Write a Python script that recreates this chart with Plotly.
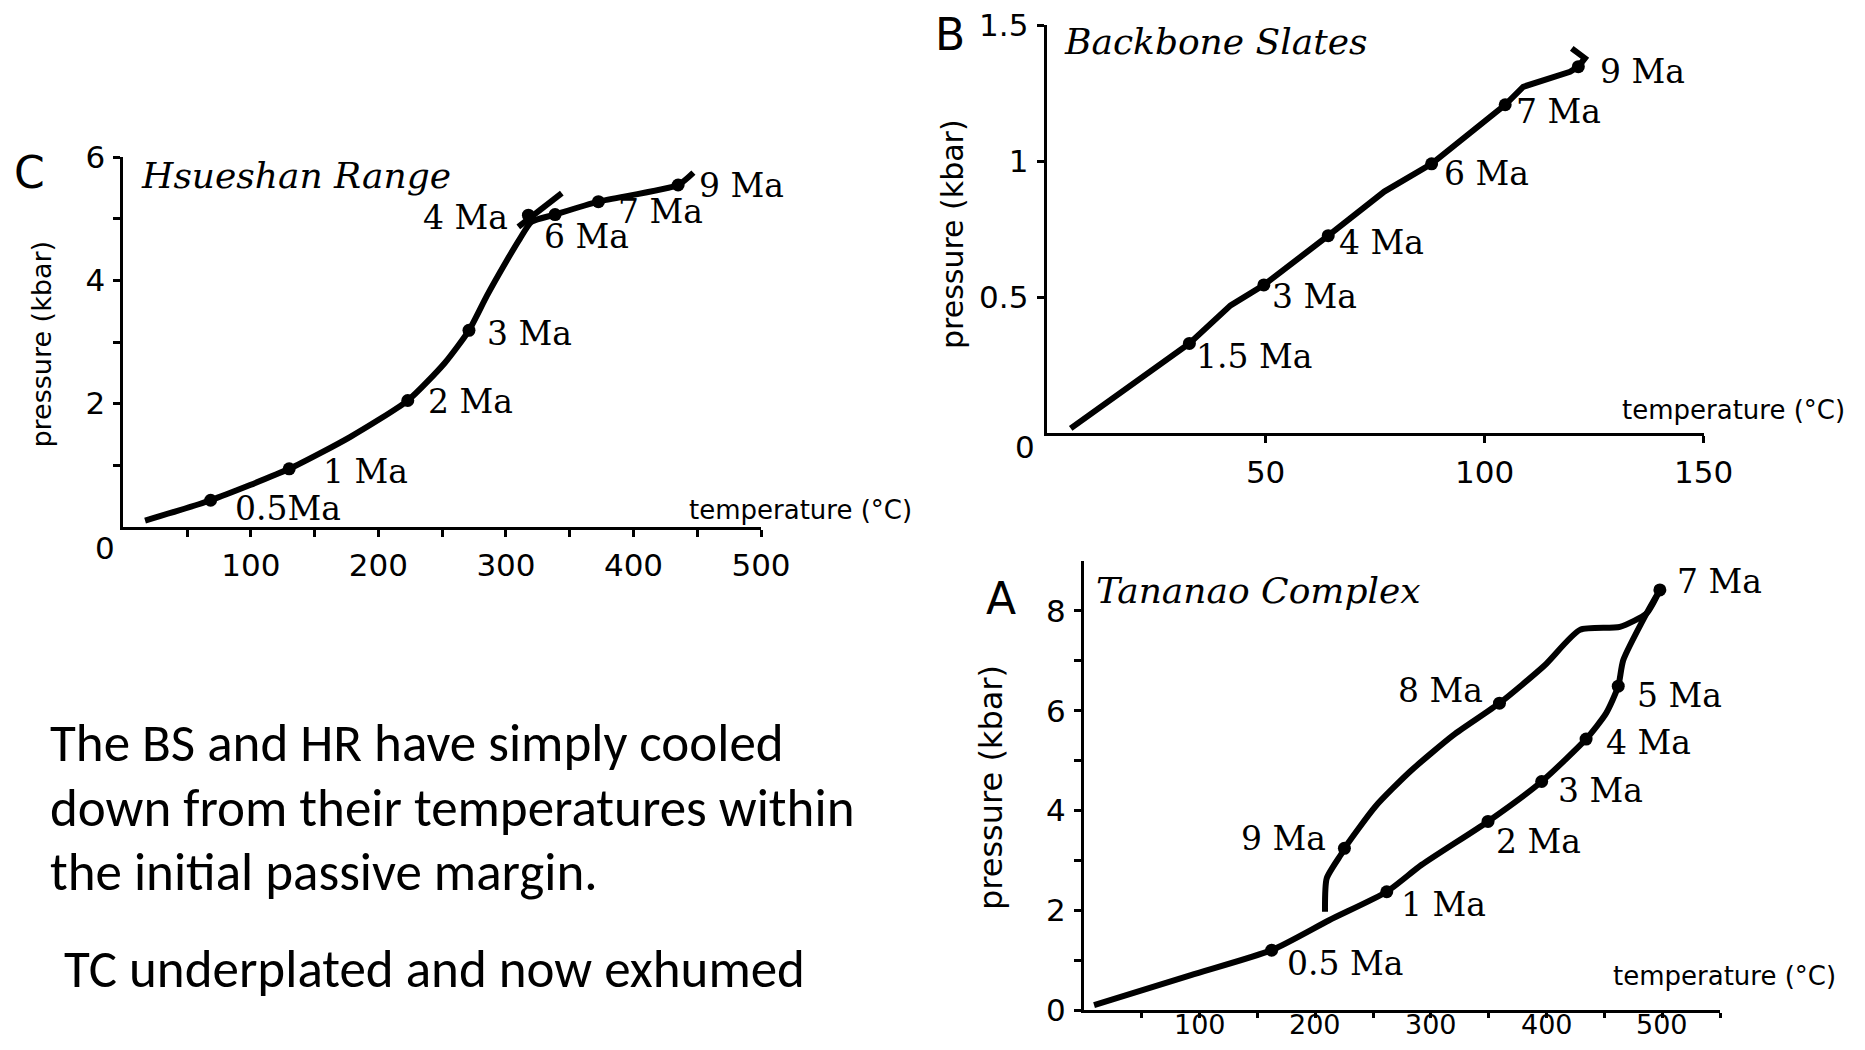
import plotly.graph_objects as go

# ---------------- data ----------------
# Panel C: Hsueshan Range (temperature degC, pressure kbar)
c_path_T = [17, 68.4, 130, 178, 223, 252, 271, 285, 300, 311, 320, 338.5, 372.5, 435, 447]
c_path_P = [0.10, 0.43, 0.94, 1.46, 2.05, 2.66, 3.19, 3.75, 4.30, 4.68, 4.95, 5.07, 5.28, 5.55, 5.75]
c_seg_T = [309.7, 343.8]
c_seg_P = [4.87, 5.42]
c_dot_T = [68.4, 130, 223, 271, 317.6, 338.5, 372.5, 435]
c_dot_P = [0.43, 0.94, 2.05, 3.19, 5.06, 5.07, 5.28, 5.55]
c_labels = ["0.5Ma", "1 Ma", "2 Ma", "3 Ma", "4 Ma", "6 Ma", "7 Ma", "9 Ma"]

# Panel B: Backbone Slates
b_path_T = [5.5, 17.9, 32.6, 42, 49.6, 64.3, 77.1, 87.9, 104.7, 108.8, 119.5, 121.4, 122.9, 119.9]
b_path_P = [0.018, 0.16, 0.33, 0.47, 0.545, 0.726, 0.888, 0.99, 1.207, 1.273, 1.328, 1.347, 1.378, 1.414]
b_dot_T = [32.6, 49.6, 64.3, 87.9, 104.7, 121.4]
b_dot_P = [0.33, 0.545, 0.726, 0.99, 1.207, 1.347]
b_labels = ["1.5 Ma", "3 Ma", "4 Ma", "6 Ma", "7 Ma", "9 Ma"]

# Panel A: Tananao Complex
a_pro_T = [8.7, 92.5, 162.3, 212, 261.8, 292, 349.4, 395.8, 434.2, 451.6, 462, 466.3, 486.5, 498]
a_pro_P = [0.10, 0.70, 1.20, 1.80, 2.37, 2.91, 3.78, 4.58, 5.43, 5.95, 6.49, 7.01, 7.95, 8.42]
a_ret_T = [498, 486.5, 463.4, 428.9, 398, 359.3, 319.4, 282, 252, 225.2, 222.9, 209.9, 208.4]
a_ret_P = [8.42, 7.95, 7.68, 7.62, 6.90, 6.15, 5.51, 4.78, 4.08, 3.24, 3.14, 2.64, 1.97]
a_dot_T = [162.3, 261.8, 349.4, 395.8, 434.2, 462, 498, 359.3, 225.2]
a_dot_P = [1.20, 2.37, 3.78, 4.58, 5.43, 6.49, 8.42, 6.15, 3.24]
a_labels = ["0.5 Ma", "1 Ma", "2 Ma", "3 Ma", "4 Ma", "5 Ma", "7 Ma", "8 Ma", "9 Ma"]

# tick labels
c_xticks = [50, 100, 150, 200, 250, 300, 350, 400, 450, 500]
c_xtext = ["", "100", "", "200", "", "300", "", "400", "", "500"]
c_yticks = [1, 2, 3, 4, 5, 6]
c_ytext = ["", "2", "", "4", "", "6"]
b_xticks = [50, 100, 150]
b_xtext = ["50", "100", "150"]
b_yticks = [0.5, 1, 1.5]
b_ytext = ["0.5", "1", "1.5"]
a_xticks = [50, 100, 150, 200, 250, 300, 350, 400, 450, 500, 550]
a_xlabel_vals = [100, 200, 300, 400, 500]
a_xlabel_text = ["100", "200", "300", "400", "500"]
a_yticks = [0, 1, 2, 3, 4, 5, 6, 7, 8]
a_ytext = ["0", "", "2", "", "4", "", "6", "", "8"]

# ---------------- layout helpers ----------------
# the page body keeps its default 8 px margin, so the figure is drawn 8 px in
OFF = 8
W, H = 1865 - 2 * OFF, 1050 - 2 * OFF
def px(x):
    return (x - OFF) / W
def py(y):
    return 1 - (y - OFF) / H

# label offsets (pixels) : (dx, dy_down, anchor)
c_off = [(22, 8, "left"), (32, 3, "left"), (18, 1, "left"), (16, 3, "left"),
         (-18, 2, "right"), (-13, 22, "left"), (18, 10, "left"), (19, 0, "left")]
b_off = [(5, 13, "left"), (6, 12, "left"), (9, 7, "left"), (10, 10, "left"),
         (9, 7, "left"), (20, 5, "left")]
a_off = [(13, 13, "left"), (12, 13, "left"), (6, 20, "left"), (14, 9, "left"),
         (18, 3, "left"), (17, 9, "left"), (15, -8, "left"), (-14, -13, "right"),
         (-16, -10, "right")]

BLACK = "#000000"
LW = 6
MS = 13
TICKFONT = dict(family="DejaVu Sans", size=31, color=BLACK)
MAFONT = dict(family="DejaVu Serif", size=33, color=BLACK)

fig = go.Figure()

def add_line(T, P, xa, ya, shape="linear"):
    fig.add_trace(go.Scatter(x=T, y=P, xaxis=xa, yaxis=ya, mode="lines",
                             line=dict(color=BLACK, width=LW, shape=shape, smoothing=0.6),
                             hoverinfo="skip"))

def add_dots(T, P, xa, ya):
    fig.add_trace(go.Scatter(x=T, y=P, xaxis=xa, yaxis=ya, mode="markers",
                             marker=dict(color=BLACK, size=MS, symbol="circle"),
                             cliponaxis=False, hoverinfo="skip"))

# C
add_line(c_path_T, c_path_P, "x", "y", "spline")
add_line(c_seg_T, c_seg_P, "x", "y")
add_dots(c_dot_T, c_dot_P, "x", "y")
# B
add_line(b_path_T, b_path_P, "x2", "y2")
add_dots(b_dot_T, b_dot_P, "x2", "y2")
# A
add_line(a_pro_T, a_pro_P, "x3", "y3", "spline")
add_line(a_ret_T, a_ret_P, "x3", "y3", "spline")
add_dots(a_dot_T, a_dot_P, "x3", "y3")

annotations = []

def ma_labels(T, P, labels, offs, xr, yr):
    for t, p, lab, (dx, dy, anc) in zip(T, P, labels, offs):
        annotations.append(dict(x=t, y=p, xref=xr, yref=yr, text=lab, showarrow=False,
                                xanchor=anc, yanchor="middle", xshift=dx, yshift=-dy,
                                font=MAFONT))

ma_labels(c_dot_T, c_dot_P, c_labels, c_off, "x", "y")
ma_labels(b_dot_T, b_dot_P, b_labels, b_off, "x2", "y2")
ma_labels(a_dot_T, a_dot_P, a_labels, a_off, "x3", "y3")

# panel A x tick labels (kept inside the page bottom)
for v, t in zip(a_xlabel_vals, a_xlabel_text):
    annotations.append(dict(x=v, y=py(1042), xref="x3", yref="paper", text=t,
                            showarrow=False, xanchor="center", yanchor="bottom",
                            font=dict(family="DejaVu Sans", size=27, color=BLACK)))

def ptext(text, x, y, font, xanchor="center", yanchor="middle", angle=0, align="left"):
    annotations.append(dict(text=text, x=px(x), y=py(y), xref="paper", yref="paper",
                            showarrow=False, xanchor=xanchor, yanchor=yanchor,
                            textangle=angle, font=font, align=align))

PANELFONT = dict(family="DejaVu Sans", size=44, color=BLACK)
TITLEFONT = dict(family="DejaVu Serif", size=36, color=BLACK)
ptext("C", 29.7, 172, PANELFONT)
ptext("B", 950, 34.5, PANELFONT)
ptext("A", 1000.7, 598.6, PANELFONT)
ptext("<i>Hsueshan Range</i>", 139, 175, TITLEFONT, xanchor="left")
ptext("<i>Backbone Slates</i>", 1062, 41.6, TITLEFONT, xanchor="left")
ptext("<i>Tananao Complex</i>", 1094, 590, TITLEFONT, xanchor="left")

TEMPFONT = dict(family="DejaVu Sans", size=26, color=BLACK)
ptext("temperature (°C)", 913.5, 510, TEMPFONT, xanchor="right")
ptext("temperature (°C)", 1847, 410, TEMPFONT, xanchor="right")
ptext("temperature (°C)", 1837.6, 976, TEMPFONT, xanchor="right")

ptext("pressure (kbar)", 41.6, 344, dict(family="DejaVu Sans", size=27, color=BLACK), angle=-90)
ptext("pressure (kbar)", 952, 234, dict(family="DejaVu Sans", size=30, color=BLACK), angle=-90)
ptext("pressure (kbar)", 991, 788, dict(family="DejaVu Sans", size=32, color=BLACK), angle=-90)

ptext("0", 105, 548, TICKFONT)
ptext("0", 1025, 447, TICKFONT)

BODY = dict(family="Carlito, Lato, sans-serif", size=53, color=BLACK)
ptext("The BS and HR have simply cooled", 48, 743, BODY, xanchor="left")
ptext("down from their temperatures within", 48, 807.6, BODY, xanchor="left")
ptext("the initial passive margin.", 48, 872, BODY, xanchor="left")
ptext("TC underplated and now exhumed", 62, 969, BODY, xanchor="left")

def axis(domain, rng, tickvals, ticktext, anchor, font=TICKFONT, ticklen=7, standoff=2):
    return dict(domain=domain, range=rng, anchor=anchor, showline=True, linecolor=BLACK,
                linewidth=3, ticks="outside", ticklen=ticklen, tickwidth=2.5, tickcolor=BLACK,
                tickvals=tickvals, ticktext=ticktext, tickfont=font, automargin=False,
                ticklabeloverflow="allow",
                showgrid=False, zeroline=False, fixedrange=True, ticklabelstandoff=standoff)

fig.update_layout(
    width=W, height=H, margin=dict(l=0, r=0, t=0, b=0, pad=0),
    paper_bgcolor="white", plot_bgcolor="white", showlegend=False,
    xaxis=axis([px(123.4), px(761)], [0, 500], c_xticks, c_xtext, "y"),
    yaxis=axis([py(526.7), py(157.3)], [0, 6], c_yticks, c_ytext, "x"),
    xaxis2=axis([px(1046.6), px(1703.6)], [0, 150], b_xticks, b_xtext, "y2"),
    yaxis2=axis([py(433.3), py(25)], [0, 1.5], b_yticks, b_ytext, "x2"),
    xaxis3=axis([px(1084), px(1720)], [0, 550], a_xticks, [""] * len(a_xticks), "y3",
                ticklen=5),
    yaxis3=axis([py(1010), py(561)], [0, 9], a_yticks, a_ytext, "x3"),
    annotations=annotations,
)

fig.write_html("out.html")
